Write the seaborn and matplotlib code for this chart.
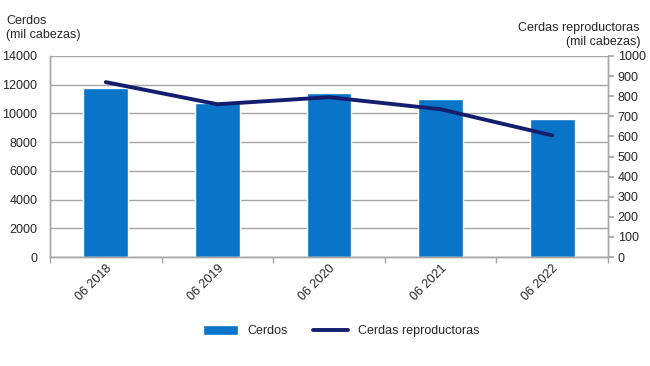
import matplotlib
matplotlib.use("Agg")
import matplotlib.pyplot as plt
import seaborn as sns
import pandas as pd
from matplotlib.ticker import MultipleLocator, FixedLocator

# data
periods = ["06 2018", "06 2019", "06 2020", "06 2021", "06 2022"]
cerdos = [11800, 10700, 11450, 11000, 9600]
cerdas = [870, 760, 795, 735, 605]

sns.set_theme(style="white")
plt.rcParams['font.family'] = ['Liberation Sans', 'DejaVu Sans']

bar_color = "#0A74C8"
line_color = "#141E6E"
grid_color = "#A6A6A6"
text_color = "#262626"

df = pd.DataFrame({"period": periods, "cerdos": cerdos, "cerdas": cerdas})

fig = plt.figure(figsize=(6.5, 3.66), dpi=100)
ax = fig.add_axes([50 / 650, 1 - 257 / 366, 558 / 650, 201 / 366])

sns.barplot(data=df, x="period", y="cerdos", color=bar_color, width=0.4,
            saturation=1, ax=ax, label="Cerdos", zorder=2)
ax.set_xlim(-0.5, 4.5)
ax.set_ylim(0, 14000)
ax.yaxis.set_major_locator(MultipleLocator(2000))
ax.grid(axis="y", color=grid_color, linewidth=1, zorder=0)
ax.set_axisbelow(True)
ax.set_xlabel("")
ax.set_ylabel("")

ax2 = ax.twinx()
sns.lineplot(data=df, x="period", y="cerdas", color=line_color, linewidth=2.8,
             sort=False, ax=ax2, label="Cerdas reproductoras")
ax2.set_ylim(0, 1000)
ax2.yaxis.set_major_locator(MultipleLocator(100))
ax2.set_ylabel("")
ax2.set_xlim(-0.5, 4.5)

for a in (ax, ax2):
    for side in ("top", "bottom", "left", "right"):
        a.spines[side].set_color(grid_color)
        a.spines[side].set_linewidth(1)
    a.spines["top"].set_visible(False)

ax.tick_params(axis="y", labelsize=9, colors=text_color, length=0, pad=9)
ax2.tick_params(axis="y", labelsize=9, colors=text_color, length=4,
                color=grid_color, direction="out", pad=3, right=True)

# category ticks between bars, labels centered and rotated
ax.xaxis.set_minor_locator(FixedLocator([-0.5, 0.5, 1.5, 2.5, 3.5, 4.5]))
ax.tick_params(axis="x", which="minor", bottom=True, length=4, color=grid_color)
ax.tick_params(axis="x", which="major", bottom=True, length=0, labelsize=9,
               colors=text_color, pad=4)
for lbl in ax.get_xticklabels():
    lbl.set_rotation(45)
    lbl.set_ha("right")
    lbl.set_rotation_mode("anchor")

ax2.get_legend().remove()
h1, l1 = ax.get_legend_handles_labels()
h2, l2 = ax2.get_legend_handles_labels()
if ax.get_legend() is not None:
    ax.get_legend().remove()
fig.legend(h1 + h2, l1 + l2, loc="center", bbox_to_anchor=(0.525, 1 - 331 / 366),
           ncol=2, frameon=False, fontsize=9, handlelength=2.8, handleheight=0.9,
           columnspacing=2.0, labelcolor=text_color)

fig.text(6 / 650, 1 - 28 / 366, "Cerdos\n(mil cabezas)", fontsize=9,
         color=text_color, ha="left", va="center", linespacing=1.3)
fig.text(640 / 650, 1 - 35 / 366, "Cerdas reproductoras\n(mil cabezas)",
         fontsize=9, color=text_color, ha="right", va="center",
         multialignment="right", linespacing=1.3)

fig.savefig("out.png", dpi=100, facecolor="white")
